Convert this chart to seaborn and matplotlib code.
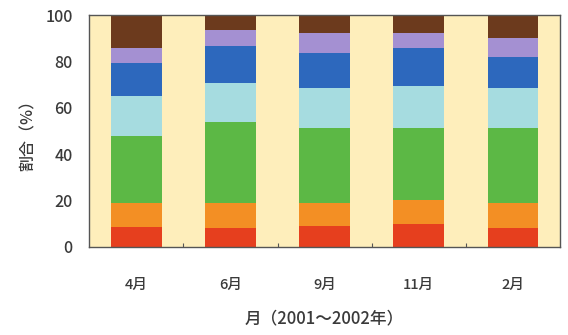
import numpy as np
import pandas as pd
import matplotlib
matplotlib.use("Agg")
import matplotlib.pyplot as plt
import seaborn as sns
from matplotlib.ticker import MultipleLocator, FixedLocator

months = ["4月", "6月", "9月", "11月", "2月"]

# Share of each component per month (%), stacked from bottom to top
red = [8.5, 8.0, 8.8, 9.9, 8.0]
orange = [10.3, 10.8, 10.0, 10.4, 10.8]
green = [29.0, 35.2, 32.3, 30.8, 32.3]
light_blue = [17.3, 16.6, 17.3, 18.3, 17.3]
blue = [14.1, 16.0, 15.4, 16.2, 13.6]
purple = [6.4, 6.9, 8.6, 6.8, 8.0]
brown = [14.4, 6.5, 7.6, 7.6, 10.0]

layers = [red, orange, green, light_blue, blue, purple, brown]
colors = ["#E63F1E", "#F38F24", "#5CB845", "#A6DCE0", "#2D68BD", "#A490D2", "#6C3A1D"]

sns.set_theme(style="white")
plt.rcParams["font.family"] = ["Noto Sans CJK JP", "DejaVu Sans"]

fig = plt.figure(figsize=(5.68, 3.35), dpi=100)
ax = fig.add_axes([0.157, 0.263, 0.829, 0.692])
ax.set_facecolor("#FEEEBB")

# Cumulative tops, drawn from the top layer down so lower layers sit in front
cum = np.cumsum(np.array(layers), axis=0)
for i in range(len(layers) - 1, -1, -1):
    df = pd.DataFrame({"month": months, "value": cum[i]})
    sns.barplot(data=df, x="month", y="value", color=colors[i], width=0.54,
                saturation=1, edgecolor="none", linewidth=0, errorbar=None, ax=ax)

ax.set_xlim(-0.5, 4.5)
ax.set_ylim(0, 100)
ax.yaxis.set_major_locator(MultipleLocator(20))
ax.xaxis.set_minor_locator(FixedLocator([0.5, 1.5, 2.5, 3.5]))

text_color = "#3a3a3a"
ax.tick_params(axis="y", which="major", length=0, pad=12, labelsize=11.5, labelcolor=text_color)
ax.tick_params(axis="x", which="major", length=0, pad=22, labelsize=10.5, labelcolor=text_color)
ax.tick_params(axis="x", which="minor", direction="in", length=3, width=0.8, color="#555555", bottom=True)
for lbl in ax.get_xticklabels() + ax.get_yticklabels():
    lbl.set_fontweight("medium")

for side in ["left", "right", "top", "bottom"]:
    ax.spines[side].set_visible(True)
    ax.spines[side].set_color("#555555")
    ax.spines[side].set_linewidth(1.0)

ax.set_ylabel("割合（%）", fontsize=11.5, color=text_color, labelpad=6, fontweight="medium")
ax.set_xlabel("月（2001～2002年）", fontsize=12, color=text_color, labelpad=13, fontweight="medium")

fig.savefig("out.png", dpi=100, facecolor="white")
